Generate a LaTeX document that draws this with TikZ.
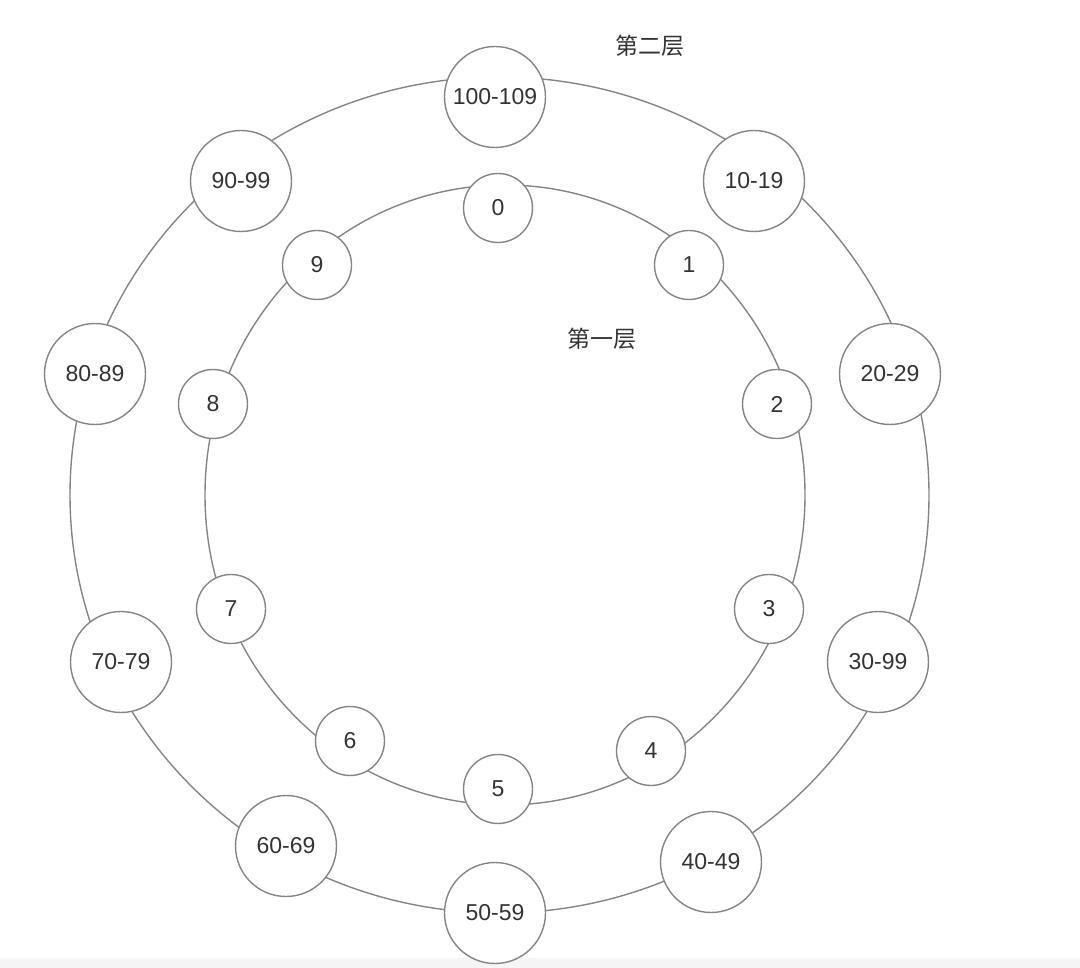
\documentclass[tikz,border=0pt]{standalone}
\usepackage{fontspec}
\setmainfont{Liberation Sans}
\newfontfamily\cjk{Noto Sans CJK SC}
\definecolor{ringgray}{HTML}{858585}
\definecolor{txtgray}{HTML}{333333}
\begin{document}
\begin{tikzpicture}[x=1pt,y=-1pt,
	ring/.style={draw=ringgray,line width=1.4pt},
	slot/.style={circle,draw=ringgray,line width=1.4pt,fill=white,inner sep=0pt,minimum size=69pt,text=txtgray,font=\fontsize{23}{23}\selectfont},
	bucket/.style={slot,minimum size=101pt},
	layer/.style={text=txtgray,font=\cjk\fontsize{23}{23}\selectfont}]
		\useasboundingbox (0,0) rectangle (1080,968);
		\fill[black!4] (0,958) rectangle (1080,968);
		
		% the two rings
		\draw[ring] (499.5,495) ellipse (429.5pt and 418pt);
		\draw[ring] (505,495) ellipse (300pt and 310pt);
		
		% first layer
		\node[slot] (n0) at (498,208) {0};
		\node[slot] (n1) at (689,265) {1};
		\node[slot] (n2) at (777,404) {2};
		\node[slot] (n3) at (769,609) {3};
		\node[slot] (n4) at (651,751) {4};
		\node[slot] (n5) at (498,789) {5};
		\node[slot] (n6) at (350,741) {6};
		\node[slot] (n7) at (231,609) {7};
		\node[slot] (n8) at (213,404) {8};
		\node[slot] (n9) at (317,265) {9};
		
		% second layer
		\node[bucket] (b10) at (495,97) {100-109};
		\node[bucket] (b1) at (754,181) {10-19};
		\node[bucket] (b2) at (890,374) {20-29};
		\node[bucket] (b3) at (878,662) {30-99};
		\node[bucket] (b4) at (711,862) {40-49};
		\node[bucket] (b5) at (495,913) {50-59};
		\node[bucket] (b6) at (286,846) {60-69};
		\node[bucket] (b7) at (121,662) {70-79};
		\node[bucket] (b8) at (95,374) {80-89};
		\node[bucket] (b9) at (241,181) {90-99};
		
		\node[layer] (layer2) at (650,46) {第二层};
		\node[layer] (layer1) at (602,339) {第一层};
\end{tikzpicture}
\end{document}
